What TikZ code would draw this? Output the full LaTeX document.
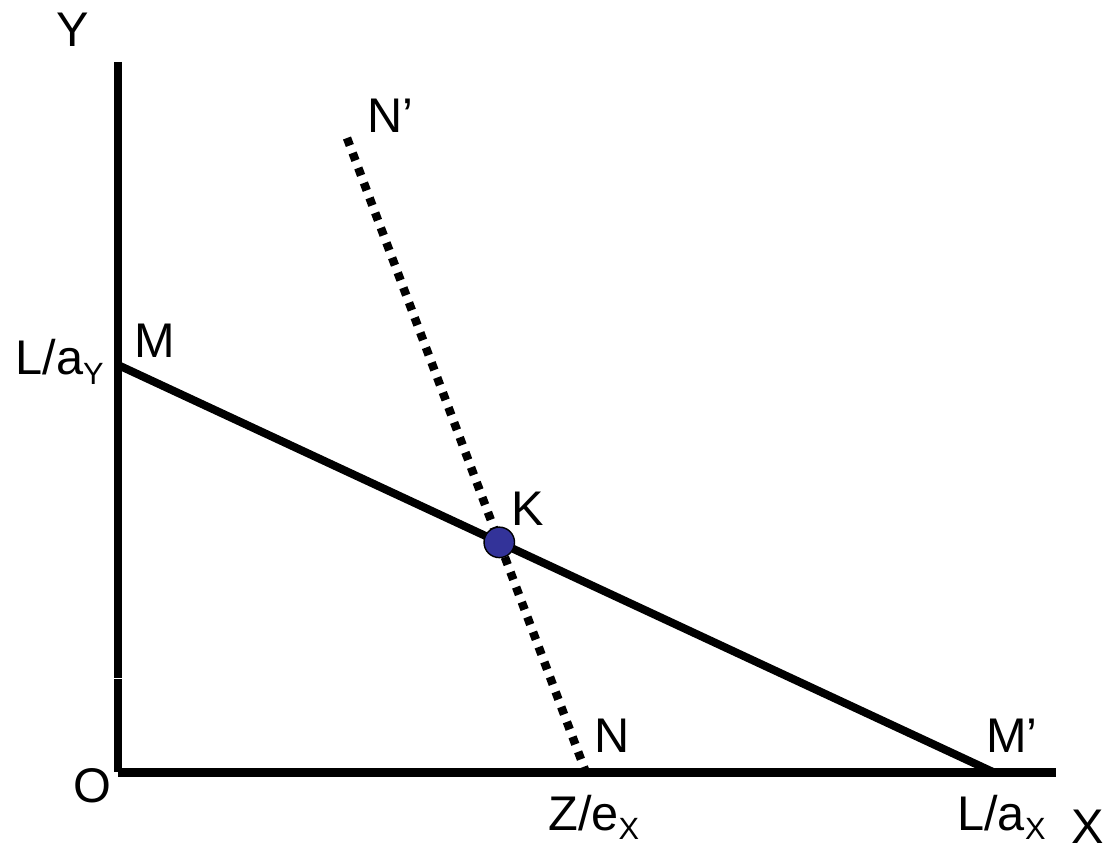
\documentclass[tikz,border=0pt]{standalone}
\usepackage{fontspec}
\setmainfont{Liberation Sans}
\usepackage{xcolor}
\usetikzlibrary{positioning}

\definecolor{dotblue}{RGB}{51,51,153}
\newcommand{\lowidx}[1]{\raisebox{-0.2em}{\fontsize{17.5}{17.5}\selectfont #1}}

\begin{document}
\begin{tikzpicture}[x=0.02cm, y=-0.02cm,
    axis/.style={line width=0.18cm},
    budget/.style={line width=0.16cm},
    dotline/.style={line width=0.17cm, dash pattern=on 0.16cm off 0.16cm},
    lbl/.style={inner sep=0pt, anchor=base, font=\fontsize{27.7}{33}\selectfont},
    eqdot/.style={circle, draw, line width=0.8pt, fill=dotblue, minimum size=0.61cm, inner sep=0pt}]

    \useasboundingbox (0,0) rectangle (1110,851);

    % points of the diagram
    \coordinate (O) at (118,772);
    \coordinate (ytop) at (118,62);
    \coordinate (ygapA) at (118,677.5);
    \coordinate (ygapB) at (118,678.5);
    \coordinate (xend) at (1056,772);
    \coordinate (M) at (118,365);
    \coordinate (Mp) at (993,772);
    \coordinate (Np) at (347,138);
    \coordinate (N) at (585,770);

    % axes
    \draw [axis] (ytop) -- (ygapA);
    \draw [axis] (ygapB) -- (O);
    \draw [axis] (O) -- (xend);

    % lines
    \draw [budget] (M) -- (Mp);
    \draw [dotline] (Np) -- (N);
    \node [eqdot] (K) at (intersection of M--Mp and Np--N) {};

    % labels
    \node [lbl] (ylbl) at (73,47) {Y};
    \node [lbl] (xlbl) at (1088,843) {X};
    \node [lbl] (olbl) at (92,802) {O};
    \node [lbl, anchor=base east] (lay) at (104,375) {L/a\lowidx{Y}};
    \node [lbl] (mlbl) at (155,358) {M};
    \node [lbl, anchor=base west] (nplbl) at (367,133) {N’};
    \node [lbl] (klbl) at (528,525) {K};
    \node [lbl] (nlbl) at (612,752) {N};
    \node [lbl, anchor=base west] (mplbl) at (986,752) {M’};
    \node [lbl, anchor=base west] (zex) at (548,830) {Z/e\lowidx{X}};
    \node [lbl, anchor=base west] (lax) at (957,830) {L/a\lowidx{X}};
\end{tikzpicture}
\end{document}
